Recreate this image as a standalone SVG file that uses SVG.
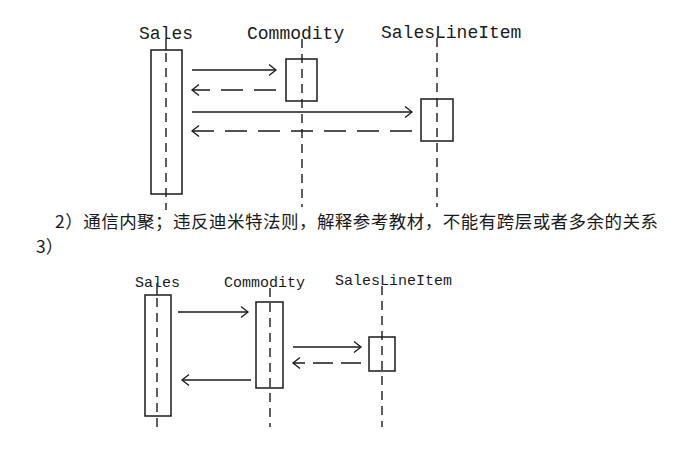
<svg xmlns="http://www.w3.org/2000/svg" width="687" height="458" viewBox="0 0 687 458">
<style>
.lbl1{font-family:"Liberation Mono","DejaVu Sans Mono",monospace;font-size:18px;fill:#1a1a1a}
.lbl2{font-family:"Liberation Mono","DejaVu Sans Mono",monospace;font-size:15px;fill:#1a1a1a}
.box{fill:none;stroke:#1a1a1a;stroke-width:1.5}
.life{stroke:#1a1a1a;stroke-width:1.4;stroke-dasharray:9 6;fill:none}
.solid{stroke:#1a1a1a;stroke-width:1.4;fill:none}
.msg{stroke:#1a1a1a;stroke-width:1.3;fill:none;marker-end:url(#arr)}
.ret1{stroke:#1a1a1a;stroke-width:1.3;fill:none;stroke-dasharray:22 11;marker-end:url(#arr)}
.ret2{stroke:#1a1a1a;stroke-width:1.3;fill:none;stroke-dasharray:20 8;marker-end:url(#arr)}
.cn{font-family:"Noto Sans CJK SC","Noto Sans",sans-serif;font-size:17.5px;fill:#1a1a1a}
</style>
<defs>
<marker id="arr" markerUnits="userSpaceOnUse" markerWidth="12" markerHeight="14" viewBox="-9 -7 12 14" refX="0" refY="0" orient="auto">
<path d="M-7,-5.5 L0,0 L-7,5.5" fill="none" stroke="#1a1a1a" stroke-width="1.3"/>
</marker>
</defs>
<rect width="687" height="458" fill="#ffffff"/>

<!-- Top diagram -->
<g id="top-sales">
<text class="lbl1" x="139" y="39">Sales</text>
<line class="solid" x1="166" y1="38" x2="166" y2="50"/>
<rect class="box" x="151" y="50" width="31" height="144"/>
<line class="life" x1="166" y1="53" x2="166" y2="210"/>
</g>
<g id="top-commodity">
<text class="lbl1" x="247" y="39">Commodity</text>
<line class="life" x1="302" y1="39" x2="302" y2="207"/>
<rect class="box" x="286" y="59" width="31" height="42"/>
</g>
<g id="top-saleslineitem">
<text class="lbl1" x="381" y="38">SalesLineItem</text>
<line class="life" x1="437" y1="38" x2="437" y2="207"/>
<rect class="box" x="421" y="99" width="32" height="42"/>
</g>

<g id="connectors">
<line class="msg" x1="192" y1="70" x2="276" y2="70"/>
<line class="ret1" x1="276" y1="90" x2="192" y2="90"/>
<line class="msg" x1="192" y1="112" x2="412" y2="112"/>
<line class="ret1" x1="412" y1="131" x2="192" y2="131"/>
<line class="msg" x1="178" y1="312" x2="248" y2="312"/>
<line class="msg" x1="293" y1="347" x2="361" y2="347"/>
<line class="ret2" x1="361" y1="363" x2="293" y2="363"/>
<line class="msg" x1="251" y1="380" x2="182" y2="380"/>
</g>

<!-- Text -->
<text class="cn" x="55" y="228" textLength="603" lengthAdjust="spacing">2）通信内聚；违反迪米特法则，解释参考教材，不能有跨层或者多余的关系</text>
<text class="cn" x="36" y="253">3）</text>

<!-- Bottom diagram -->
<g id="bottom-sales">
<text class="lbl2" x="135" y="287">Sales</text>
<line class="solid" x1="157" y1="283" x2="157" y2="295"/>
<rect class="box" x="145" y="295" width="26" height="121"/>
<line class="life" x1="157" y1="298" x2="157" y2="427"/>
</g>
<g id="bottom-commodity">
<text class="lbl2" x="224" y="287">Commodity</text>
<line class="life" x1="270" y1="288" x2="270" y2="427"/>
<rect class="box" x="256" y="302" width="27" height="86"/>
</g>
<g id="bottom-saleslineitem">
<text class="lbl2" x="335" y="285">SalesLineItem</text>
<line class="life" x1="382" y1="286" x2="382" y2="427"/>
<rect class="box" x="369" y="337" width="26" height="34"/>
</g>
</svg>
